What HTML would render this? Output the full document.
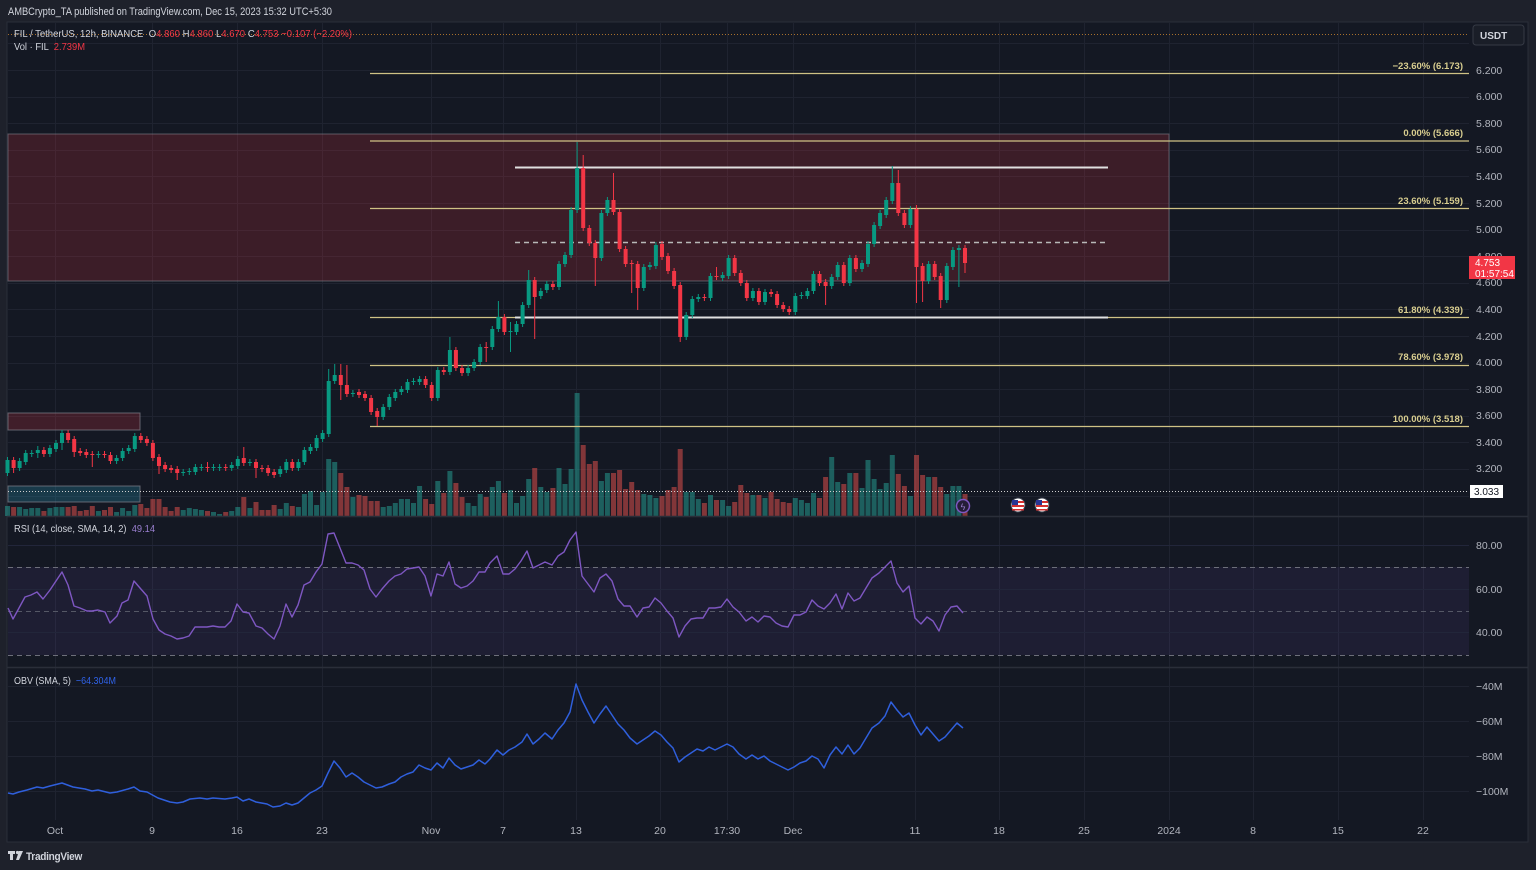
<!DOCTYPE html>
<html><head><meta charset="utf-8">
<style>
html,body{margin:0;padding:0;background:#1e212b;width:1536px;height:870px;overflow:hidden}
svg{display:block;font-family:"Liberation Sans",sans-serif}
</style></head>
<body>
<svg id="s" width="1536" height="870" viewBox="0 0 1536 870" xmlns="http://www.w3.org/2000/svg">
<rect x="0" y="0" width="1536" height="870" fill="#1e212b"/>
<text x="8" y="15" font-size="11" fill="#d1d4dc" textLength="324" lengthAdjust="spacingAndGlyphs">AMBCrypto_TA published on TradingView.com, Dec 15, 2023 15:32 UTC+5:30</text>
<rect x="7" y="22" width="1521" height="820" fill="#141823" stroke="#2a2e39" stroke-width="1"/>
<g id="grid" stroke="#1f2330" stroke-width="1"></g>
<!-- zones -->
<rect x="8" y="134" width="1161" height="147" fill="rgba(242,54,69,0.18)" stroke="rgba(130,130,140,0.6)" stroke-width="1"/>
<rect x="8" y="413" width="132" height="17" fill="rgba(242,54,69,0.2)" stroke="rgba(130,130,140,0.7)" stroke-width="1"/>
<rect x="8" y="486" width="132" height="16" fill="rgba(41,160,190,0.25)" stroke="rgba(130,130,140,0.7)" stroke-width="1"/>
<!-- orange dotted line -->
<line x1="8" y1="34.5" x2="1469" y2="34.5" stroke="#a8702c" stroke-width="1" stroke-dasharray="1,2"/>
<g id="vol"></g>
<!-- fib lines -->
<g stroke="#cfc285" stroke-width="1.3">
<line x1="370" y1="73.5" x2="1469" y2="73.5"/>
<line x1="370" y1="141" x2="1469" y2="141"/>
<line x1="370" y1="208.5" x2="1469" y2="208.5"/>
<line x1="370" y1="317.5" x2="1469" y2="317.5"/>
<line x1="370" y1="365.5" x2="1469" y2="365.5"/>
<line x1="370" y1="426.5" x2="1469" y2="426.5"/>
</g>
<g font-size="9.5" font-weight="bold" fill="#d8cd8f" text-anchor="end">
<text x="1463" y="69">−23.60% (6.173)</text>
<text x="1463" y="136">0.00% (5.666)</text>
<text x="1463" y="204">23.60% (5.159)</text>
<text x="1463" y="313">61.80% (4.339)</text>
<text x="1463" y="360">78.60% (3.978)</text>
<text x="1463" y="422">100.00% (3.518)</text>
</g>
<!-- white lines -->
<line x1="515" y1="167.5" x2="1108" y2="167.5" stroke="#e0e0e0" stroke-width="2"/>
<line x1="515" y1="317.5" x2="1108" y2="317.5" stroke="#e0e0e0" stroke-width="2"/>
<line x1="515" y1="242.5" x2="1108" y2="242.5" stroke="#b8b8b8" stroke-width="1.5" stroke-dasharray="5,4"/>
<line x1="8" y1="491.5" x2="1469" y2="491.5" stroke="#cfcfcf" stroke-width="1" stroke-dasharray="1,2"/>
<g id="cdl"></g>
<!-- legend -->
<text x="14" y="37" font-size="10.5" fill="#d1d4dc" textLength="338" lengthAdjust="spacingAndGlyphs">FIL / TetherUS, 12h, BINANCE <tspan dx="3">O</tspan><tspan fill="#f23645">4.860</tspan><tspan dx="3">H</tspan><tspan fill="#f23645">4.860</tspan><tspan dx="3">L</tspan><tspan fill="#f23645">4.670</tspan><tspan dx="3">C</tspan><tspan fill="#f23645">4.753</tspan><tspan dx="3" fill="#f23645">−0.107 (−2.20%)</tspan></text>
<text x="14" y="50" font-size="10.5" fill="#d1d4dc" textLength="71" lengthAdjust="spacingAndGlyphs">Vol · FIL <tspan dx="3" fill="#f23645">2.739M</tspan></text>
<!-- price axis -->
<rect x="1473" y="25" width="51" height="20" rx="3" fill="#1a1e28" stroke="#363a45"/>
<text x="1480" y="39" font-size="10" font-weight="bold" fill="#d1d4dc">USDT</text>
<g font-size="10.5" fill="#b2b5be">
<text x="1476" y="74">6.200</text>
<text x="1476" y="100">6.000</text>
<text x="1476" y="127">5.800</text>
<text x="1476" y="153">5.600</text>
<text x="1476" y="180">5.400</text>
<text x="1476" y="207">5.200</text>
<text x="1476" y="233">5.000</text>
<text x="1476" y="260">4.800</text>
<text x="1476" y="286">4.600</text>
<text x="1476" y="313">4.400</text>
<text x="1476" y="340">4.200</text>
<text x="1476" y="366">4.000</text>
<text x="1476" y="393">3.800</text>
<text x="1476" y="419">3.600</text>
<text x="1476" y="446">3.400</text>
<text x="1476" y="472">3.200</text>
</g>
<rect x="1469" y="256" width="46" height="23" fill="#f23645"/>
<text x="1475" y="266" font-size="10" fill="#ffffff">4.753</text>
<text x="1475" y="277" font-size="10" fill="#ffffff">01:57:54</text>
<rect x="1470" y="485" width="33" height="13" fill="#ffffff"/>
<text x="1474" y="495" font-size="10" fill="#131722">3.033</text>
<!-- icons -->
<circle cx="963" cy="506" r="6.5" fill="#251d38" stroke="#7e57c2" stroke-width="1.5"/>
<text x="963" y="510" font-size="9" fill="#9a7fd0" text-anchor="middle">ϟ</text>
<g>
<circle cx="1018" cy="505" r="7" fill="#ffffff" stroke="#3a3f4c" stroke-width="1"/>
<rect x="1012" y="501" width="12" height="2" fill="#d32f2f"/><rect x="1012" y="505" width="12" height="2" fill="#d32f2f"/><rect x="1012" y="509" width="12" height="1.5" fill="#d32f2f"/>
<rect x="1012" y="500" width="6" height="5" fill="#283593"/>
<circle cx="1042" cy="505" r="7" fill="#ffffff" stroke="#3a3f4c" stroke-width="1"/>
<rect x="1036" y="501" width="12" height="2" fill="#d32f2f"/><rect x="1036" y="505" width="12" height="2" fill="#d32f2f"/><rect x="1036" y="509" width="12" height="1.5" fill="#d32f2f"/>
<rect x="1036" y="500" width="6" height="5" fill="#283593"/>
</g>
<!-- pane separators -->
<line x1="7" y1="516.5" x2="1528" y2="516.5" stroke="#2a2e39" stroke-width="1.5"/>
<line x1="7" y1="667.5" x2="1528" y2="667.5" stroke="#2a2e39" stroke-width="1.5"/>
<!-- RSI pane -->
<rect x="8" y="567" width="1461" height="88" fill="rgba(126,87,194,0.1)"/>
<g stroke="#22263a" stroke-width="1">
<line x1="8" y1="545.5" x2="1469" y2="545.5"/>
<line x1="8" y1="589.5" x2="1469" y2="589.5"/>
<line x1="8" y1="632.5" x2="1469" y2="632.5"/>
</g>
<g stroke="#6d6f7a" stroke-width="1" stroke-dasharray="5,4">
<line x1="8" y1="567.5" x2="1469" y2="567.5"/>
<line x1="8" y1="655.5" x2="1469" y2="655.5"/>
</g>
<line x1="8" y1="611.5" x2="1469" y2="611.5" stroke="#555866" stroke-width="1" stroke-dasharray="5,4"/>
<polyline fill="none" stroke="#7e57c2" stroke-width="1.4" stroke-linejoin="round" points="8,608 13,619 19,608 25,597 31,595 37,592 43,599 50,590 56,581 62,572 68,585 74,606 80,608 87,611 92,611 98,610 105,612 110,623 117,616 122,603 128,600 134,581 140,588 147,596 153,619 159,630 165,634 171,636 177,639 183,638 189,636 195,627 201,627 207,627 213,626 219,627 225,627 231,621 237,604 243,612 249,613 256,626 262,628 268,634 274,639 280,626 286,604 292,617 298,605 304,585 310,582 316,572 322,564 328,534 334,533 340,548 346,563 352,563 358,565 364,570 370,589 376,597 382,589 389,581 395,576 401,574 407,569 413,568 419,567 425,576 431,596 437,574 443,576 449,562 455,584 461,588 467,586 473,581 479,572 485,572 490,563 497,556 503,574 509,574 515,569 521,561 527,551 533,568 539,565 545,562 552,565 558,556 564,552 570,540 576,532 582,576 588,584 594,592 600,578 606,574 612,581 618,599 624,606 630,606 637,617 643,608 649,607 655,598 661,603 667,611 673,618 679,637 685,626 691,619 697,618 703,618 709,608 715,608 721,607 727,599 733,607 739,612 746,621 752,617 758,622 764,616 770,617 776,623 782,626 788,627 794,615 800,615 806,612 812,600 818,606 824,609 830,603 836,594 842,609 848,593 854,601 860,598 866,588 872,578 879,573 885,567 891,561 897,583 903,592 909,586 915,618 921,624 927,617 933,621 939,631 945,615 951,607 957,606 963,613"/>
<text x="14" y="532" font-size="10.5" fill="#d1d4dc" textLength="141" lengthAdjust="spacingAndGlyphs">RSI (14, close, SMA, 14, 2) <tspan dx="3" fill="#9a7fd0">49.14</tspan></text>
<g font-size="10.5" fill="#b2b5be">
<text x="1476" y="549">80.00</text>
<text x="1476" y="593">60.00</text>
<text x="1476" y="636">40.00</text>
</g>
<!-- OBV pane -->
<g stroke="#1f2330" stroke-width="1">
<line x1="8" y1="686.5" x2="1469" y2="686.5"/>
<line x1="8" y1="721.5" x2="1469" y2="721.5"/>
<line x1="8" y1="756.5" x2="1469" y2="756.5"/>
<line x1="8" y1="791.5" x2="1469" y2="791.5"/>
</g>
<polyline fill="none" stroke="#2f5fdc" stroke-width="1.5" stroke-linejoin="round" points="8,793 13,794 19,792 27,790 37,787 43,788 50,786 62,783 73,787 85,789 92,791 98,790 110,793 117,792 128,789 134,787 140,791 147,792 158,798 170,802 177,803 183,802 190,799 200,798 207,799 213,798 225,799 232,798 237,797 243,801 249,799 256,802 267,804 273,807 280,806 286,803 292,805 298,803 304,798 310,793 316,790 322,786 328,773 334,761 340,768 346,777 352,773 358,777 364,782 370,785 376,788 382,787 389,784 395,782 401,777 407,774 413,772 419,765 425,768 431,770 437,763 443,768 449,758 455,765 461,769 467,767 473,765 479,760 485,764 490,759 497,750 503,755 509,750 515,747 522,742 527,734 533,744 539,739 545,733 552,739 558,730 564,723 570,712 576,684 582,700 588,712 594,723 600,714 606,706 612,715 618,724 624,730 630,738 637,744 643,740 649,736 655,731 661,735 667,742 673,748 679,762 685,757 691,753 697,749 703,751 709,747 715,750 721,747 727,744 733,747 739,754 746,759 752,755 758,759 764,756 770,761 776,764 782,767 788,770 794,767 800,763 806,761 812,756 818,759 824,768 830,755 836,747 842,754 848,745 854,754 860,748 866,738 872,728 879,723 885,716 891,702 897,710 903,717 909,713 915,725 921,735 927,727 933,734 939,741 945,737 951,730 957,723 963,728"/>
<text x="14" y="684" font-size="10.5" fill="#d1d4dc" textLength="102" lengthAdjust="spacingAndGlyphs">OBV (SMA, 5) <tspan dx="3" fill="#2f62e8">−64.304M</tspan></text>
<g font-size="10.5" fill="#b2b5be">
<text x="1476" y="690">−40M</text>
<text x="1476" y="725">−60M</text>
<text x="1476" y="760">−80M</text>
<text x="1476" y="795">−100M</text>
</g>
<!-- time axis -->
<g font-size="10.5" fill="#b2b5be" text-anchor="middle">
<text x="55" y="834">Oct</text>
<text x="152" y="834">9</text>
<text x="237" y="834">16</text>
<text x="322" y="834">23</text>
<text x="431" y="834">Nov</text>
<text x="503" y="834">7</text>
<text x="576" y="834">13</text>
<text x="660" y="834">20</text>
<text x="727" y="834">17:30</text>
<text x="793" y="834">Dec</text>
<text x="915" y="834">11</text>
<text x="999" y="834">18</text>
<text x="1084" y="834">25</text>
<text x="1169" y="834">2024</text>
<text x="1253" y="834">8</text>
<text x="1338" y="834">15</text>
<text x="1423" y="834">22</text>
</g>
<!-- footer -->
<g fill="#d1d4dc">
<rect x="8" y="851" width="7" height="3"/>
<rect x="10" y="851" width="3" height="9"/>
<circle cx="17.5" cy="852.5" r="1.6"/>
<polygon points="19,851 23,851 19,860 16,860"/>
<text x="26" y="860" font-size="11" font-weight="bold" letter-spacing="-0.3" textLength="56" lengthAdjust="spacingAndGlyphs">TradingView</text>
</g>
</svg>
<script>
(function(){
var NS="http://www.w3.org/2000/svg";
function el(p,t,a){var e=document.createElementNS(NS,t);for(var k in a)e.setAttribute(k,a[k]);p.appendChild(e);return e;}
var grid=document.getElementById('grid');
for(var k=-1;k<=16;k++){var y=Math.round(70+k*26.6)+0.5;el(grid,'line',{x1:8,y1:y,x2:1469,y2:y});}
var xs=[55,152,237,322,431,503,576,660,727,793,915,999,1084,1169,1253,1338,1423];
xs.forEach(function(x){el(grid,'line',{x1:x+0.5,y1:23,x2:x+0.5,y2:820});});
var C=[[473,460,0,0],[460,468,0,473],[468,461,0,0],[462,453,0,0],[454,453,0,0],[453,450,446,458],[450,454,0,0],[454,448,0,0],[449,443,0,0],[443,433,0,450],
[433,440,0,0],[439,452,0,457],[451,453,0,0],[452,455,0,0],[454,455,0,467],[455,454,0,0],[454,455,0,0],[455,461,0,0],[461,458,0,0],[458,451,0,0],
[451,448,0,0],[449,436,0,0],[436,440,0,0],[439,443,0,0],[443,458,0,0],[457,466,0,474],[465,469,0,0],[468,470,0,0],[469,473,0,480],[473,472,0,0],
[472,471,0,0],[472,467,0,0],[468,467,0,0],[467,468,462,472],[468,467,0,0],[468,467,0,0],[467,468,0,0],[468,465,0,0],[466,459,0,0],[458,463,447,0],
[463,462,0,0],[462,468,0,478],[468,469,0,0],[468,473,0,0],[472,475,0,0],[474,469,0,0],[470,462,0,0],[462,468,0,0],[468,462,0,0],[462,450,0,0],
[451,447,0,0],[448,438,0,0],[439,433,0,0],[434,381,369,0],[381,375,364,0],[375,385,364,400],[385,394,365,0],[394,393,0,0],[392,395,0,0],[394,398,0,0],
[398,412,0,0],[411,417,0,426],[417,407,0,0],[407,397,0,0],[398,392,0,0],[392,389,0,0],[390,382,0,0],[382,381,0,0],[382,379,0,0],[379,385,0,0],
[385,398,0,0],[398,370,0,0],[370,372,0,0],[372,350,337,0],[350,368,0,0],[368,373,0,0],[373,368,0,0],[368,362,0,0],[362,347,0,0],[347,348,342,362],
[347,329,0,0],[329,317,301,0],[317,332,0,0],[332,331,322,352],[332,324,0,0],[324,305,0,0],[305,280,270,0],[280,297,0,339],[296,291,0,0],[290,284,0,0],
[284,287,0,0],[287,264,0,0],[264,255,0,0],[255,210,0,0],[210,168,142,0],[168,228,155,0],[228,243,0,0],[243,258,0,286],[258,213,0,0],[213,200,0,0],
[200,212,173,0],[212,249,0,0],[249,264,0,0],[263,264,0,293],[264,288,0,310],[288,267,0,0],[267,265,0,0],[266,245,0,0],[244,257,0,0],[256,271,0,0],
[271,286,0,0],[285,337,0,342],[337,315,0,0],[315,299,0,0],[299,297,0,0],[297,298,0,0],[298,276,0,0],[276,277,267,0],[278,275,0,0],[276,258,0,0],
[258,273,0,0],[273,283,0,0],[283,298,0,0],[298,291,0,0],[291,302,0,0],[302,292,0,0],[292,294,0,0],[294,305,0,0],[305,309,0,0],[309,312,0,0],
[312,296,0,0],[296,295,0,0],[296,291,0,0],[291,274,0,0],[274,283,0,0],[282,286,0,305],[286,277,0,0],[277,265,0,0],[265,283,0,0],[283,258,0,0],
[258,269,0,0],[269,263,0,0],[264,244,0,0],[244,225,0,0],[226,213,0,0],[215,200,0,0],[201,183,166,0],[183,213,170,0],[213,225,0,0],[225,209,0,0],
[209,267,205,303],[266,281,0,302],[281,264,0,0],[264,277,0,0],[276,300,0,308],[300,266,0,0],[267,250,0,0],[250,248,245,287],[248,263,0,273]];
var V=[506,507,507,509,508,508,511,508,507,507,507,506,511,510,506,511,510,507,512,508,511,505,504,508,499,499,507,511,507,510,508,509,510,511,512,514,512,511,507,497,508,502,510,510,505,509,503,506,507,494,491,505,492,459,462,473,487,497,495,496,501,501,507,506,503,499,499,503,486,499,504,481,493,471,483,497,503,506,494,497,487,481,493,490,503,496,479,468,487,492,488,468,484,469,393,445,464,461,481,473,473,470,489,482,490,494,495,498,496,490,487,449,492,492,499,503,495,500,500,506,502,485,493,495,495,498,492,499,502,503,498,500,503,493,498,477,457,482,484,473,473,488,460,479,489,483,455,474,486,496,455,475,477,477,487,494,486,486,494];
var cg=document.getElementById('cdl'),vg=document.getElementById('vol');
for(var i=0;i<C.length;i++){
 var c=C[i],x=7.5+i*6.06,o=c[0],cl=c[1];
 var up=cl<=o;var col=up?'#089981':'#f23645';
 var top=Math.min(o,cl),bot=Math.max(o,cl);if(bot-top<1)bot=top+1;
 var h=c[2]||top-3,l=c[3]||bot+3;
 if(i<V.length){var vc=up?'rgba(38,166,154,0.5)':'rgba(239,83,80,0.5)';el(vg,'rect',{x:(x-2.5).toFixed(1),y:V[i],width:5,height:516-V[i],fill:vc});}
 el(cg,'line',{x1:x.toFixed(1),y1:h,x2:x.toFixed(1),y2:l,stroke:col,'stroke-width':1});
 el(cg,'rect',{x:(x-2).toFixed(1),y:top,width:4,height:bot-top,fill:col});
}
})();
</script>
</body></html>
